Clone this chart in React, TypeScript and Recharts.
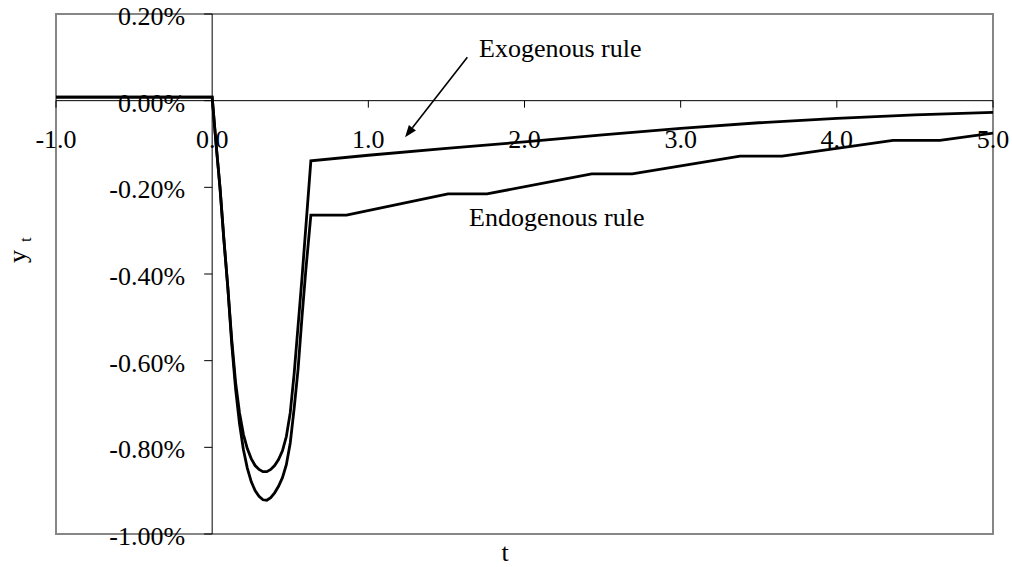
import React from "react";
import {
  LineChart,
  Line,
  XAxis,
  YAxis,
  ReferenceLine,
  ReferenceArea,
} from "recharts";

// ---------- data ----------
const exoT = [
  -1, 0, 0.025, 0.05, 0.075, 0.1, 0.125, 0.15, 0.175, 0.2, 0.225, 0.25, 0.275, 0.3,
  0.325, 0.35, 0.375, 0.4, 0.425, 0.45, 0.475, 0.5, 0.525, 0.55, 0.575, 0.632, 1.0,
  1.5, 2.0, 2.5, 3.0, 3.5, 4.0, 4.5, 5.0,
];
const exoV = [
  0.008, 0.008, -0.1, -0.2, -0.32, -0.43, -0.55, -0.65, -0.72, -0.77, -0.803, -0.826,
  -0.842, -0.851, -0.856, -0.856, -0.851, -0.842, -0.828, -0.808, -0.775, -0.72, -0.63,
  -0.52, -0.41, -0.139, -0.126, -0.11, -0.095, -0.079, -0.064, -0.051, -0.041, -0.033,
  -0.027,
];
const endoT = [
  -1, 0, 0.025, 0.05, 0.075, 0.1, 0.125, 0.15, 0.175, 0.2, 0.225, 0.25, 0.275, 0.3,
  0.325, 0.35, 0.375, 0.4, 0.425, 0.45, 0.475, 0.5, 0.525, 0.55, 0.575, 0.6, 0.632,
  0.86, 1.51, 1.76, 2.43, 2.69, 3.38, 3.65, 4.36, 4.66, 5.0,
];
const endoV = [
  0.008, 0.008, -0.1, -0.2, -0.32, -0.43, -0.56, -0.665, -0.745, -0.805, -0.848, -0.879,
  -0.9, -0.913, -0.921, -0.922, -0.916, -0.905, -0.89, -0.87, -0.84, -0.79, -0.71,
  -0.62, -0.5, -0.39, -0.264, -0.264, -0.215, -0.215, -0.169, -0.169, -0.128, -0.128,
  -0.0915, -0.0915, -0.075,
];
const xTicks = [-1, 0, 1, 2, 3, 4, 5];
const yTicks = [-1, -0.8, -0.6, -0.4, -0.2, 0, 0.2];
const seriesNames = ["Exogenous rule", "Endogenous rule"];
const arrowFrom = { x: 1.634, y: 0.1 };
const arrowTo = { x: 1.235, y: -0.0845 };

const exoData = exoT.map((t, i) => ({ t, v: exoV[i] }));
const endoData = endoT.map((t, i) => ({ t, v: endoV[i] }));

// ---------- layout ----------
const W = 1012;
const H = 567;
const AX_W = 30;
const AX_H = 30;
const M = { top: 14, right: 19, bottom: 33 - AX_H, left: 56 - AX_W };
const PLOT_L = 56;
const PLOT_T = 14;
const X_DOM = [-1, 5];
const Y_DOM = [-1, 0.2];
const plotW = W - PLOT_L - 19;
const plotH = H - PLOT_T - 33;
const zeroX = PLOT_L + (plotW * (0 - X_DOM[0])) / (X_DOM[1] - X_DOM[0]);
const zeroY = PLOT_T + (plotH * (Y_DOM[1] - 0)) / (Y_DOM[1] - Y_DOM[0]);
const FONT = "'Liberation Serif', 'Times New Roman', serif";
const FS = 26;

const renderXTick = (props: any) => {
  const { x, payload } = props;
  return (
    <g key={`xt-${payload.value}`}>
      <line x1={x} x2={x} y1={zeroY} y2={zeroY + 7} stroke="#000" strokeWidth={1} />
      <text
        x={x}
        y={zeroY + 47}
        textAnchor="middle"
        fontFamily={FONT}
        fontSize={FS}
        fill="#000"
      >
        {Number(payload.value).toFixed(1)}
      </text>
    </g>
  );
};

const renderYTick = (props: any) => {
  const { y, payload } = props;
  return (
    <g key={`yt-${payload.value}`}>
      <line x1={zeroX - 8} x2={zeroX} y1={y} y2={y} stroke="#000" strokeWidth={1} />
      <text
        x={zeroX - 27}
        y={y + 11}
        textAnchor="end"
        fontFamily={FONT}
        fontSize={FS}
        fill="#000"
      >
        {Number(payload.value).toFixed(2) + "%"}
      </text>
    </g>
  );
};

const Arrow = (props: any) => {
  const { x1, y1, x2, y2 } = props;
  const ang = Math.atan2(y2 - y1, x2 - x1);
  const len = 12;
  const half = 4.5;
  const bx = x2 - len * Math.cos(ang);
  const by = y2 - len * Math.sin(ang);
  const px = -Math.sin(ang) * half;
  const py = Math.cos(ang) * half;
  return (
    <g>
      <line x1={x1} y1={y1} x2={bx} y2={by} stroke="#000" strokeWidth={1.6} />
      <polygon
        points={`${x2},${y2} ${bx + px},${by + py} ${bx - px},${by - py}`}
        fill="#000"
      />
    </g>
  );
};

export default function App() {
  return (
    <div style={{ position: "absolute", left: 0, top: 0, width: W, height: H, background: "#fff" }}>
      <LineChart width={W} height={H} margin={M}>
        <XAxis
          dataKey="t"
          type="number"
          domain={X_DOM}
          ticks={xTicks}
          interval={0}
          height={AX_H}
          axisLine={false}
          tickLine={false}
          tick={renderXTick}
          allowDataOverflow
        />
        <YAxis
          type="number"
          domain={Y_DOM}
          ticks={yTicks}
          interval={0}
          width={AX_W}
          axisLine={false}
          tickLine={false}
          tick={renderYTick}
          allowDataOverflow
        />
        <ReferenceArea
          x1={X_DOM[0]}
          x2={X_DOM[1]}
          y1={Y_DOM[0]}
          y2={Y_DOM[1]}
          fill="none"
          fillOpacity={0}
          stroke="#868686"
          strokeWidth={2}
        />
        <ReferenceLine y={0} stroke="#000" strokeWidth={1} />
        <ReferenceLine x={0} stroke="#000" strokeWidth={1} />
        <Line
          data={endoData}
          dataKey="v"
          name={seriesNames[1]}
          type="linear"
          stroke="#000"
          strokeWidth={2.8}
          dot={false}
          isAnimationActive={false}
        />
        <Line
          data={exoData}
          dataKey="v"
          name={seriesNames[0]}
          type="linear"
          stroke="#000"
          strokeWidth={2.8}
          dot={false}
          isAnimationActive={false}
        />
        <ReferenceLine segment={[arrowFrom, arrowTo]} shape={<Arrow />} />
        <text x={479} y={57} fontFamily={FONT} fontSize={FS} fill="#000">
          {seriesNames[0]}
        </text>
        <text x={469} y={226} fontFamily={FONT} fontSize={FS} fill="#000">
          {seriesNames[1]}
        </text>
        <text x={505} y={561} textAnchor="middle" fontFamily={FONT} fontSize={FS} fill="#000">
          t
        </text>
        <text
          x={25.5}
          y={263}
          transform="rotate(-90 25.5 263)"
          fontFamily={FONT}
          fontSize={FS}
          fill="#000"
        >
          y
          <tspan dx={8} dy={5} fontSize={17}>
            t
          </tspan>
        </text>
      </LineChart>
    </div>
  );
}
